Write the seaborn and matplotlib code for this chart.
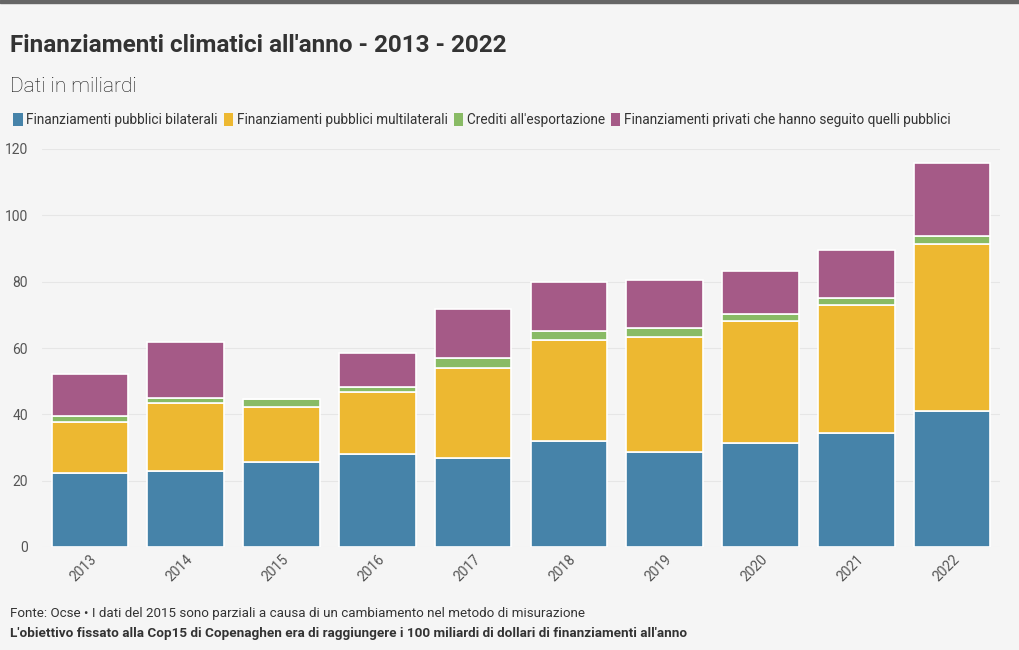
import numpy as np
import pandas as pd
import seaborn as sns
import matplotlib.pyplot as plt
from matplotlib.patches import Patch

years = ["2013", "2014", "2015", "2016", "2017", "2018", "2019", "2020", "2021", "2022"]
bilaterali = [22.3, 22.9, 25.6, 28.0, 26.8, 32.0, 28.6, 31.4, 34.4, 41.0]
multilaterali = [15.4, 20.5, 16.6, 18.7, 27.2, 30.4, 34.7, 36.7, 38.6, 50.3]
crediti = [1.8, 1.5, 2.4, 1.5, 3.0, 2.7, 2.7, 2.1, 2.1, 2.5]
privati = [12.7, 16.9, 0.0, 10.3, 14.8, 14.8, 14.5, 13.0, 14.4, 22.0]

series = ["Finanziamenti pubblici bilaterali", "Finanziamenti pubblici multilaterali",
          "Crediti all'esportazione", "Finanziamenti privati che hanno seguito quelli pubblici"]
colors = ["#4683a9", "#edb831", "#89bb65", "#a55a87"]

bg = "#f5f5f5"
sns.set_theme(style="white")
plt.rcParams['font.family'] = ['Roboto', 'DejaVu Sans']

fig = plt.figure(figsize=(10.2, 6.5), dpi=100, facecolor=bg)
ax = fig.add_axes([42 / 1020, 1 - 547 / 650, 958 / 1020, 398 / 650])
ax.set_facecolor(bg)

df = pd.DataFrame({"anno": years})
bottom = np.zeros(len(years))
for name, vals, col in zip(series, [bilaterali, multilaterali, crediti, privati], colors):
    df["v"] = vals
    sns.barplot(data=df, x="anno", y="v", color=col, bottom=bottom, width=0.8,
                edgecolor="white", linewidth=1.2, ax=ax, saturation=1)
    bottom = bottom + np.array(vals)

ax.set_xlim(-0.5, 9.5)
ax.set_ylim(0, 120)
ax.set_yticks([0, 20, 40, 60, 80, 100, 120])
ax.yaxis.grid(True, color="#e6e6e6", linewidth=0.8)
ax.set_axisbelow(True)
for s in ax.spines.values():
    s.set_visible(False)
ax.set_xlabel("")
ax.set_ylabel("")
ax.tick_params(axis="y", length=0, pad=10, labelsize=10, labelcolor="#555555")
ax.tick_params(axis="x", length=0, pad=4, labelsize=10, labelcolor="#555555")
for lab in ax.get_xticklabels():
    lab.set_rotation(45)
    lab.set_ha("right")
    lab.set_rotation_mode("anchor")
for lab in ax.get_yticklabels():
    lab.set_ha("right")

# barra scura in alto
fig.add_artist(plt.Rectangle((0, 1 - 3 / 650), 1, 3 / 650, transform=fig.transFigure,
                             color="#666666", zorder=10))

fig.text(10 / 1020, 1 - 45 / 650, "Finanziamenti climatici all'anno - 2013 - 2022",
         fontsize=17.5, fontweight="bold", color="#333333", va="center")
fig.text(10 / 1020, 1 - 86 / 650, "Dati in miliardi", fontsize=15, fontweight="light",
         color="#111111", va="center")

handles = [Patch(facecolor=c, edgecolor="none") for c in colors]
fig.legend(handles, series, loc="center left", bbox_to_anchor=(1 / 1020, 1 - 120 / 650),
           ncol=4, frameon=False, fontsize=9.8, handlelength=0.7, handleheight=1.1,
           handletextpad=0.25, columnspacing=0.45, labelcolor="#333333")

fig.text(10 / 1020, 1 - 614 / 650,
         "Fonte: Ocse \u2022 I dati del 2015 sono parziali a causa di un cambiamento nel metodo di misurazione",
         fontsize=9.6, color="#333333", va="center")
fig.text(10 / 1020, 1 - 633 / 650,
         "L'obiettivo fissato alla Cop15 di Copenaghen era di raggiungere i 100 miliardi di dollari di finanziamenti all'anno",
         fontsize=9.7, fontweight="bold", color="#333333", va="center")

fig.savefig("out.png", dpi=100, facecolor=bg)
